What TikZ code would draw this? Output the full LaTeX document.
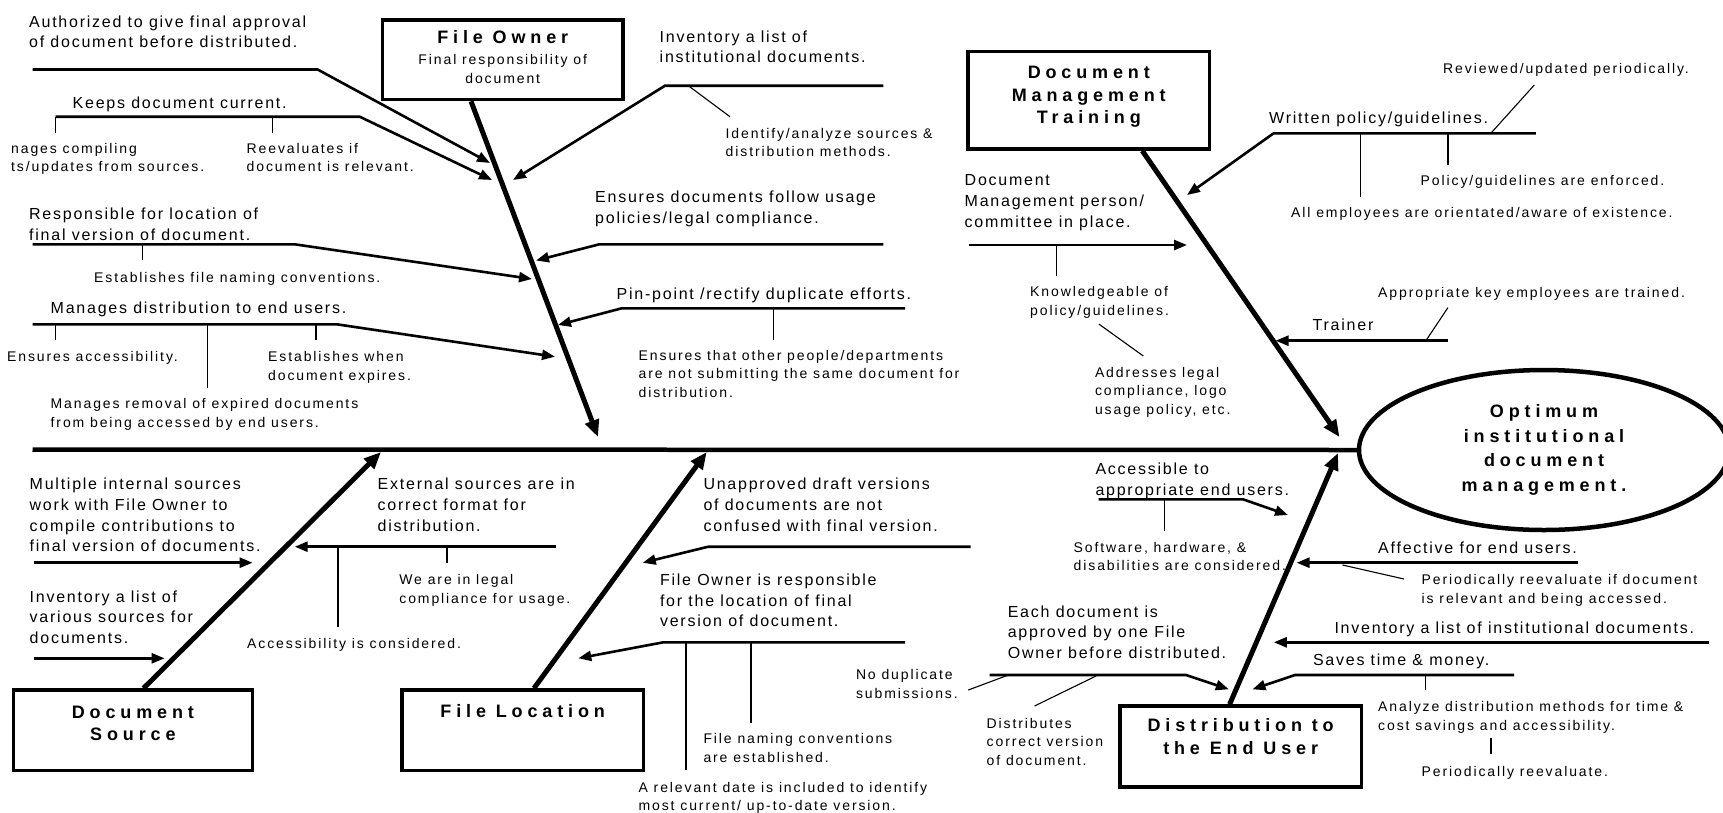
\documentclass[tikz,border=0pt]{standalone}
\usepackage{fontspec}
\setmainfont{Liberation Sans}
\newfontfamily\regA[LetterSpace=11]{Liberation Sans}
\newfontfamily\regB[LetterSpace=13.5]{Liberation Sans}
\newfontfamily\boldF[LetterSpace=27]{Liberation Sans}
\usetikzlibrary{arrows.meta,shapes.geometric}
\newcommand\rb[2]{\raisebox{#1}[\height][\depth]{\begin{tabular}{@{}c@{}}#2\end{tabular}}}
\begin{document}
\begin{tikzpicture}[x=1pt,y=-1pt,
  tA/.style={font=\regA\fontsize{16}{20.7}\selectfont, align=left, inner sep=0pt, anchor=north west, yshift=6pt},
  tB/.style={font=\regB\fontsize{14}{18.5}\selectfont, align=left, inner sep=0pt, anchor=north west, yshift=5pt},
  box/.style={draw, line width=3.5pt, rectangle, inner sep=0pt},
  bf/.style={font=\boldF\bfseries\fontsize{18}{22.5}\selectfont},
  spine/.style={line width=4.5pt},
  bone/.style={line width=5pt, -{Triangle[length=17pt,width=14pt]}},
  br/.style={line width=2.6pt, -{Triangle[length=13pt,width=10pt]}},
  tk/.style={line width=1.3pt},
  thin/.style={line width=1.1pt}]
\useasboundingbox (0,0) rectangle (1723,812);

% ---------- boxes ----------
\node[box, minimum width=240.5pt, minimum height=79.5pt, font=\regB\fontsize{14}{19}\selectfont] (fo) at (502.75,59.75)
  {\rb{0pt}{{\boldF\bfseries\fontsize{18}{19}\selectfont File Owner}\\[1.5pt]Final responsibility of\\document}};
\node[box, bf, minimum width=241.5pt, minimum height=97.3pt] (dmt) at (1088.75,100.35)
  {\rb{3.4pt}{Document\\Management\\Training}};
\node[box, bf, minimum width=239.2pt, minimum height=80.5pt] (ds) at (132.9,730.25)
  {\rb{5.4pt}{Document\\Source}};
\node[box, bf, minimum width=241.3pt, minimum height=80.5pt] (fl) at (522.65,730.25)
  {\rb{17pt}{File Location}};
\node[box, bf, minimum width=241.7pt, minimum height=81pt] (deu) at (1240.65,746.5)
  {\rb{8pt}{Distribution to\\the End User}};
\node[ellipse, draw, line width=4.5pt, minimum width=370pt, minimum height=160pt, inner sep=0pt,
  align=center, font=\boldF\bfseries\fontsize{18}{24.5}\selectfont] (opt) at (1544,450)
  {Optimum\\institutional\\document\\management.};

% ---------- texts ----------
\node[tA] (n1) at (29,21.5) {Authorized to give final approval\\of document before distributed.};
\node[tA] (n2) at (72.5,103) {Keeps document current.};
\node[tB] (n3) at (11,148) {nages compiling\\ts/updates from sources.};
\node[tB] (n4) at (246.5,148) {Reevaluates if\\document is relevant.};
\node[tA] (n5) at (29,213.5) {Responsible for location of\\final version of document.};
\node[tB] (n6) at (94,277) {Establishes file naming conventions.};
\node[tA] (n7) at (50.5,308) {Manages distribution to end users.};
\node[tB] (n8) at (7,356.5) {Ensures accessibility.};
\node[tB] (n9) at (268,356.5) {Establishes when\\document expires.};
\node[tB] (n10) at (50.5,403.5) {Manages removal of expired documents\\from being accessed by end users.};
\node[tA] (n11) at (659.5,36.5) {Inventory a list of\\institutional documents.};
\node[tB] (n12) at (725.5,133) {Identify/analyze sources \&\\distribution methods.};
\node[tA] (n13) at (595,197) {Ensures documents follow usage\\policies/legal compliance.};
\node[tA] (n14) at (616.5,293.5) {Pin-point /rectify duplicate efforts.};
\node[tB] (n15) at (638.5,355) {Ensures that other people/departments\\are not submitting the same document for\\distribution.};
\node[tB] (n16) at (1443,68.5) {Reviewed/updated periodically.};
\node[tA] (n17) at (1269,118) {Written policy/guidelines.};
\node[tB] (n18) at (1420.5,180) {Policy/guidelines are enforced.};
\node[tB] (n19) at (1291,212.5) {All employees are orientated/aware of existence.};
\node[tA] (n20) at (964.5,180.5) {Document\\Management person/\\committee in place.};
\node[tB] (n21) at (1030,291.5) {Knowledgeable of\\policy/guidelines.};
\node[tB] (n22) at (1094.8,372) {Addresses legal\\compliance, logo\\usage policy, etc.};
\node[tB] (n23) at (1378,292.5) {Appropriate key employees are trained.};
\node[tA] (n24) at (1312.5,324.3) {Trainer};
\node[tA] (n25) at (29.5,483.8) {Multiple internal sources\\work with File Owner to\\compile contributions to\\final version of documents.};
\node[tA] (n26) at (29.5,596.2) {Inventory a list of\\various sources for\\documents.};
\node[tA] (n27) at (377.5,483.8) {External sources are in\\correct format for\\distribution.};
\node[tB] (n28) at (399.2,579.5) {We are in legal\\compliance for usage.};
\node[tB] (n29) at (247,643.3) {Accessibility is considered.};
\node[tA] (n30) at (703.3,483.8) {Unapproved draft versions\\of documents are not\\confused with final version.};
\node[tA] (n31) at (659.8,579.5) {File Owner is responsible\\for the location of final\\version of document.};
\node[tB] (n32) at (703.3,738.3) {File naming conventions\\are established.};
\node[tB] (n33) at (638.4,786.8) {A relevant date is included to identify\\most current/ up-to-date version.};
\node[tB] (n34) at (855.8,674.3) {No duplicate\\submissions.};
\node[tA] (n35) at (1095.3,468.7) {Accessible to\\appropriate end users.};
\node[tB] (n36) at (1073.5,547) {Software, hardware, \&\\disabilities are considered.};
\node[tA] (n37) at (1378,547.7) {Affective for end users.};
\node[tB] (n38) at (1421.5,579.5) {Periodically reevaluate if document\\is relevant and being accessed.};
\node[tA] (n39) at (1334.3,628) {Inventory a list of institutional documents.};
\node[tA] (n40) at (1312.8,660) {Saves time \& money.};
\node[tB] (n41) at (1378,706.6) {Analyze distribution methods for time \&\\cost savings and accessibility.};
\node[tB] (n42) at (1421.5,770.8) {Periodically reevaluate.};
\node[tA] (n43) at (1007.6,611.3) {Each document is\\approved by one File\\Owner before distributed.};
\node[tB] (n44) at (986.5,722.8) {Distributes\\correct version\\of document.};

% ---------- coordinates ----------
\coordinate (spL) at (32.5,449.5);
\coordinate (foT) at (598,437);
\coordinate (dmtT) at (1339.5,437);
\coordinate (dsT) at (381,452);
\coordinate (flT) at (706.7,452);
\coordinate (deuT) at (1338,453);

\coordinate (a1s) at (32.5,69.5);   \coordinate (a1k) at (317.6,69.5);  \coordinate (a1t) at (490,163);
\coordinate (a2s) at (55.5,116.7);  \coordinate (a2k) at (359.7,116.7); \coordinate (a2t) at (492,180);
\coordinate (a3s) at (883.3,85.7);  \coordinate (a3k) at (665,85.7);    \coordinate (a3t) at (513,180);
\coordinate (a4s) at (32.5,244.3);  \coordinate (a4k) at (294.7,244.3); \coordinate (a4t) at (532,279);
\coordinate (a5s) at (883.3,244.3); \coordinate (a5k) at (599.3,244.3); \coordinate (a5t) at (536,260.5);
\coordinate (a6s) at (905,308.3);   \coordinate (a6k) at (621.7,308.3); \coordinate (a6t) at (558,325);
\coordinate (a7s) at (32.5,324.3);  \coordinate (a7k) at (336.8,324.3); \coordinate (a7t) at (555,356.7);

\coordinate (b1s) at (1535.8,133.3); \coordinate (b1k) at (1273.6,133.3); \coordinate (b1t) at (1187,195);
\coordinate (b2s) at (969,245);      \coordinate (b2t) at (1187,245);
\coordinate (b3s) at (1448.4,340.7); \coordinate (b3t) at (1275.6,340.7);

\coordinate (d1s) at (33.7,562.7);  \coordinate (d1t) at (252.6,562.7);
\coordinate (d2s) at (33.7,658.3);  \coordinate (d2t) at (164.6,658.3);
\coordinate (d3s) at (555.7,546.7); \coordinate (d3t) at (294.7,546.7);

\coordinate (f1s) at (970.7,546.7); \coordinate (f1k) at (708.3,546.7); \coordinate (f1t) at (642.7,562.7);
\coordinate (f2s) at (905,642.3);   \coordinate (f2k) at (663.3,642.3); \coordinate (f2t) at (578.3,658.3);

\coordinate (e1s) at (1098.5,499.3); \coordinate (e1k) at (1243,499.3);  \coordinate (e1t) at (1288,515);
\coordinate (e2s) at (1578,562.7);   \coordinate (e2t) at (1296.6,562.7);
\coordinate (e3s) at (1708.9,642.3); \coordinate (e3t) at (1273.8,642.3);
\coordinate (e4s) at (1514,675);     \coordinate (e4k) at (1295,675);    \coordinate (e4t) at (1252.5,689.3);
\coordinate (e5s) at (989.5,675);    \coordinate (e5k) at (1186.1,675);  \coordinate (e5t) at (1228.8,689.3);

% ---------- spine and bones ----------
\draw[spine] (spL) -- (opt.west);
\draw[bone] ([xshift=-31.75pt]fo.south) -- (foT);
\draw[bone] ([xshift=53.5pt]dmt.south) -- (dmtT);
\draw[bone] ([xshift=10.6pt]ds.north) -- (dsT);
\draw[bone] ([xshift=11.3pt]fl.north) -- (flT);
\draw[bone] ([xshift=-11pt]deu.north) -- (deuT);

% ---------- branches ----------
\draw[br] (a1s) -- (a1k) -- (a1t);
\draw[br] (a2s) -- (a2k) -- (a2t);
\draw[br] (a3s) -- (a3k) -- (a3t);
\draw[br] (a4s) -- (a4k) -- (a4t);
\draw[br] (a5s) -- (a5k) -- (a5t);
\draw[br] (a6s) -- (a6k) -- (a6t);
\draw[br] (a7s) -- (a7k) -- (a7t);
\draw[br] (b1s) -- (b1k) -- (b1t);
\draw[br] (b2s) -- (b2t);
\draw[br] (b3s) -- (b3t);
\draw[br] (d1s) -- (d1t);
\draw[br] (d2s) -- (d2t);
\draw[br] (d3s) -- (d3t);
\draw[br] (f1s) -- (f1k) -- (f1t);
\draw[br] (f2s) -- (f2k) -- (f2t);
\draw[br] (e1s) -- (e1k) -- (e1t);
\draw[br] (e2s) -- (e2t);
\draw[br] (e3s) -- (e3t);
\draw[br] (e4s) -- (e4k) -- (e4t);
\draw[br] (e5s) -- (e5k) -- (e5t);

% ---------- ticks ----------
\foreach \i/\x/\ya/\yb in {1/55.5/116.7/132.7, 2/272.5/116.7/132.7, 3/142.4/244.3/260,
  4/773.3/308.3/340, 5/55.5/324.3/340, 6/207.8/324.3/388.3, 7/316.1/324.3/340,
  8/1447.9/133.3/165, 9/1360.5/133.3/196.7, 10/1056.4/245/275.7,
  11/337.9/546.7/626.7, 12/447/546.7/563.3, 13/686/642.3/770, 14/751/642.3/722.7,
  15/1164.8/499.3/531, 16/1425.5/675/690}
{\coordinate (tk\i a) at (\x,\ya); \coordinate (tk\i b) at (\x,\yb); \draw[tk] (tk\i a) -- (tk\i b);}
\coordinate (tk17a) at (1490.9,738.3); \coordinate (tk17b) at (1490.9,754);
\draw[line width=2pt] (tk17a) -- (tk17b);

% ---------- thin pointers ----------
\foreach \i/\xa/\ya/\xb/\yb in {1/688.3/85.7/730/116.7, 2/1490.8/133.3/1534.3/85,
  3/1098.8/324/1143.3/356, 4/1425.9/340.7/1447.9/307.7, 5/1342.5/565/1404/579,
  6/1008.4/675/968.3/690, 7/1096/676/1034.5/706}
{\coordinate (th\i a) at (\xa,\ya); \coordinate (th\i b) at (\xb,\yb); \draw[thin] (th\i a) -- (th\i b);}
\end{tikzpicture}
\end{document}
